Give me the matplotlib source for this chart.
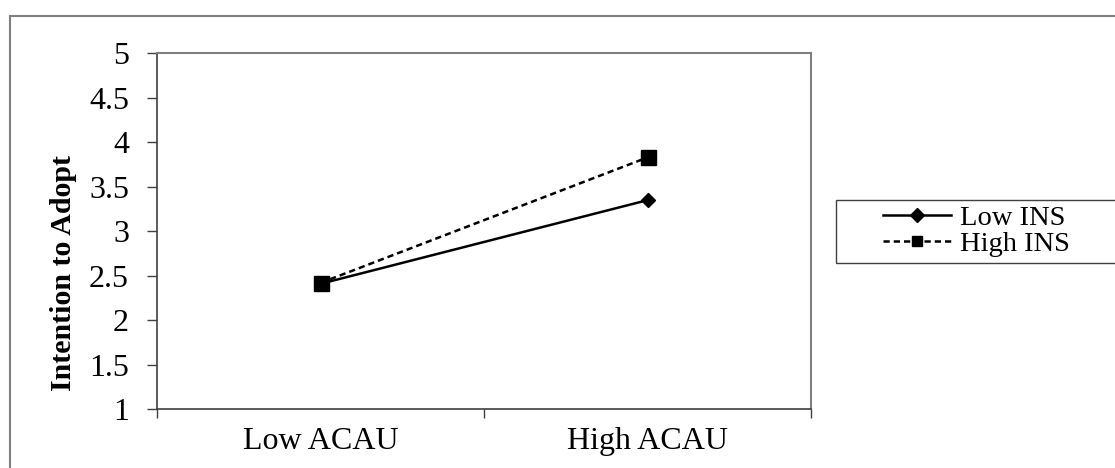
import numpy as np
import matplotlib
matplotlib.use('Agg')
import matplotlib.pyplot as plt
from matplotlib.patches import Rectangle

plt.rcParams['font.family'] = ['Liberation Serif', 'DejaVu Serif']

# data
categories = ['Low ACAU', 'High ACAU']
low_ins = [2.41, 3.35]
high_ins = [2.42, 3.83]
series_names = ['Low INS', 'High INS']
yticks = [1, 1.5, 2, 2.5, 3, 3.5, 4, 4.5, 5]

W, H = 1115, 468
fig = plt.figure(figsize=(W/100, H/100), dpi=100)
ax = fig.add_axes([157/W, 1-409.3/H, 654/W, 356/H])

x = np.arange(len(categories))
ax.plot(x, low_ins, color='black', lw=1.8, marker='D', ms=7.5,
        label=series_names[0], clip_on=False)
ax.plot(x, high_ins, color='black', lw=1.8, ls=(0, (2.5, 1.6)), marker='s', ms=10.8,
        label=series_names[1], clip_on=False)

ax.set_xlim(-0.5, len(categories)-0.5)
ax.set_ylim(1, 5)
ax.set_yticks(yticks)
ax.set_yticklabels(['%g' % v for v in yticks])
ax.set_xticks(x)
ax.set_xticklabels(categories)
ax.set_xticks(np.arange(len(categories)+1)-0.5, minor=True)

ax.tick_params(axis='x', which='major', length=0, pad=13, labelsize=23)
ax.tick_params(axis='x', which='minor', length=6.5, width=1, color='#404040')
ax.tick_params(axis='y', which='major', length=7.2, width=1, color='#404040', pad=13, labelsize=23)

for s in ['left', 'bottom']:
    ax.spines[s].set_color('#404040')
    ax.spines[s].set_linewidth(1.2)
for s in ['top', 'right']:
    ax.spines[s].set_color('#808080')
    ax.spines[s].set_linewidth(1.5)

ax.set_ylabel('Intention to Adopt', fontsize=21.5, fontweight='bold')
ax.yaxis.set_label_coords(-0.1223, 0.383)

# legend
leg = ax.legend(loc='center left', bbox_to_anchor=(883/W, 1-231/H),
                bbox_transform=fig.transFigure, frameon=False, fontsize=20.5,
                handlelength=2.4, handletextpad=0.3, labelspacing=0.02,
                borderpad=0, borderaxespad=0)
leg.get_lines()[0].set_markersize(7)
leg.get_lines()[1].set_markersize(7)

# legend box and outer chart frame
fig.patches.append(Rectangle((836/W, 1-262.5/H), 0.3, 63/H, transform=fig.transFigure,
                             fill=False, edgecolor='#404040', lw=1.0))
fig.patches.append(Rectangle((10/W, -0.1), 1.1, 1.1-16/H, transform=fig.transFigure,
                             fill=False, edgecolor='#808080', lw=1.5))

fig.savefig('out.png', dpi=100)
